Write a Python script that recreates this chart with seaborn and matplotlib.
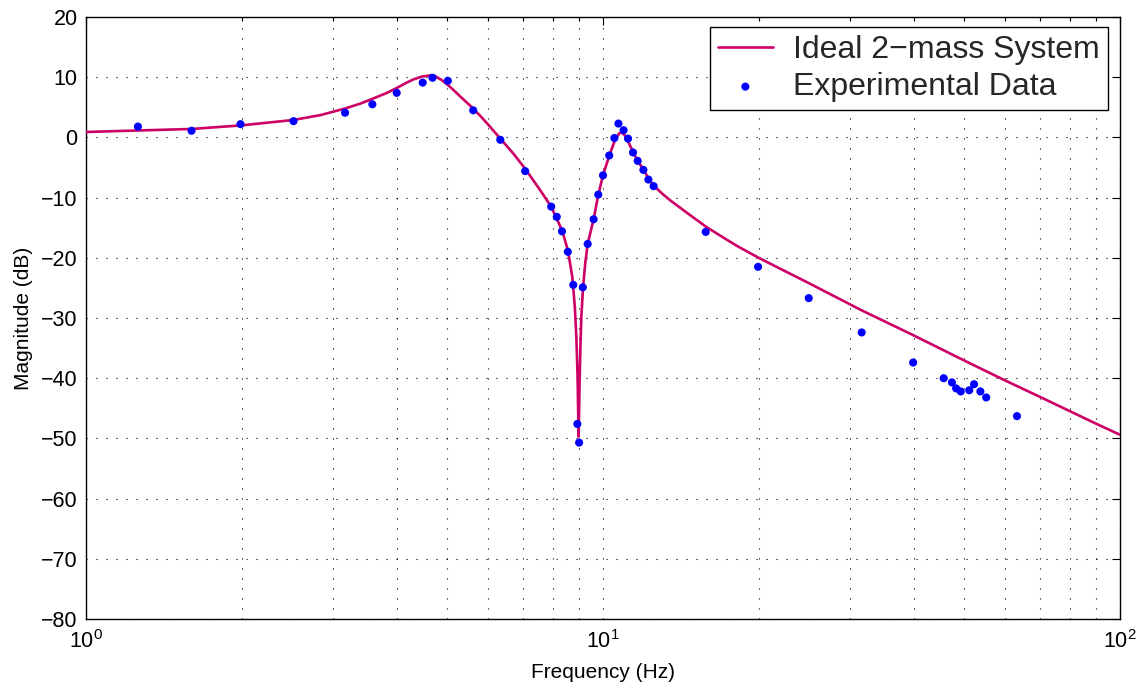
import numpy as np
import pandas as pd
import matplotlib
matplotlib.use("Agg")
import matplotlib.pyplot as plt
import seaborn as sns
from matplotlib.ticker import LogLocator, FixedLocator, NullFormatter

# Ideal 2-mass system curve
model_freq = [1.0, 1.26, 1.6, 2.0, 2.52, 2.84, 3.17, 3.39, 3.58, 3.82, 3.99, 4.15,
              4.29, 4.46, 4.63, 4.73, 4.88, 5.06, 5.28, 5.53, 5.80, 6.0, 6.33, 6.71,
              7.07, 7.55, 7.94, 8.33, 8.55, 8.72, 8.82, 8.88, 8.93, 8.97, 9.01, 9.04,
              9.08, 9.15, 9.24, 9.34, 9.59, 9.79, 10.0, 10.28, 10.52, 10.75, 10.86,
              11.01, 11.2, 11.43, 11.67, 11.97, 12.24, 12.53, 13.0, 13.51, 14.52, 15.8,
              16.84, 18.14, 19.9, 22.0, 25.0, 31.6, 39.7, 49.8, 59.7, 70.0, 89.6, 100.0]
model_db = [0.9, 1.15, 1.4, 2.0, 2.9, 3.7, 4.8, 5.6, 6.4, 7.4, 8.2, 9.0,
            9.6, 10.1, 10.3, 10.2, 9.5, 8.4, 6.9, 5.3, 3.5, 2.1, -0.2, -2.7,
            -5.2, -8.7, -11.5, -15.4, -18.7, -23.1, -28.1, -33.1, -39.7, -49.7, -40.9, -35.3,
            -29.8, -24.9, -20.9, -17.7, -13.6, -9.6, -6.25, -3.1, -0.7, 0.7, 0.8,
            0.4, -0.8, -2.4, -3.9, -5.3, -6.8, -8.0, -9.3, -10.5, -12.5, -14.8,
            -16.3, -18.0, -19.9, -21.8, -24.2, -28.7, -32.8, -37.0, -40.3, -43.1, -47.5, -49.4]

exp_freq = [1.26, 1.60, 1.99, 2.52, 3.17, 3.58, 3.99, 4.48, 4.68, 5.01, 5.61,
            6.33, 7.07, 7.94, 8.14, 8.33, 8.55, 8.76, 8.92, 8.99, 9.14, 9.34,
            9.59, 9.79, 10.0, 10.28, 10.52, 10.71, 10.96, 11.18, 11.43, 11.67,
            11.97, 12.24, 12.53, 15.8, 19.95, 25.0, 31.65, 39.8, 45.6, 47.3,
            48.2, 49.2, 51.1, 52.2, 53.7, 55.1, 63.2]
exp_db = [1.8, 1.1, 2.2, 2.7, 4.1, 5.5, 7.4, 9.1, 9.9, 9.4, 4.5,
          -0.4, -5.6, -11.5, -13.2, -15.6, -19.0, -24.5, -47.6, -50.7, -24.9, -17.7,
          -13.6, -9.5, -6.3, -3.0, -0.1, 2.3, 1.2, -0.2, -2.5, -3.9,
          -5.4, -7.0, -8.1, -15.7, -21.5, -26.7, -32.4, -37.4, -40.0, -40.7,
          -41.7, -42.2, -42.0, -41.0, -42.2, -43.2, -46.3]

y_ticks = list(range(-80, 21, 10))

sns.set_theme(style="white")
plt.rcParams['font.family'] = ['Liberation Sans', 'DejaVu Sans']
plt.rcParams['mathtext.fontset'] = 'custom'
plt.rcParams['mathtext.rm'] = 'Liberation Sans'
plt.rcParams['mathtext.it'] = 'Liberation Sans'

fig = plt.figure(figsize=(11.45, 6.94), dpi=100)
ax = fig.add_axes([86/1145, 1 - 619/694, (1120-86)/1145, (619-17)/694])

model = pd.DataFrame({"f": model_freq, "db": model_db})
exp = pd.DataFrame({"f": exp_freq, "db": exp_db})

sns.lineplot(data=model, x="f", y="db", ax=ax, color="#CC0066", linewidth=1.9,
             label="Ideal 2\u2212mass System", sort=False, zorder=3)
sns.scatterplot(data=exp, x="f", y="db", ax=ax, color="#0000FF", s=34,
                edgecolor="none", label="Experimental Data", zorder=4)

ax.set_xscale("log")
ax.set_xlim(1, 100)
ax.set_ylim(-80, 20)
ax.yaxis.set_major_locator(FixedLocator(y_ticks))
ax.xaxis.set_major_locator(LogLocator(base=10, numticks=10))
ax.xaxis.set_minor_locator(LogLocator(base=10, subs=np.arange(2, 10), numticks=20))
ax.xaxis.set_minor_formatter(NullFormatter())

ax.grid(True, which="major", axis="both", color="black", linestyle=(0, (1, 8)), linewidth=0.8)
ax.grid(True, which="minor", axis="x", color="black", linestyle=(0, (1, 8)), linewidth=0.8)

for s in ax.spines.values():
    s.set_color("black")
    s.set_linewidth(1.0)

ax.tick_params(axis="both", which="both", direction="in", top=True, right=True,
               colors="black", labelsize=15.5)
ax.tick_params(axis="both", which="major", length=6, width=0.8)
ax.tick_params(axis="y", which="major", pad=6)
ax.tick_params(axis="x", which="major", pad=8)
ax.tick_params(axis="x", which="minor", length=3, width=0.8)

ax.set_xlabel("Frequency (Hz)", fontsize=15, color="black", labelpad=7)
ax.set_ylabel("Magnitude (dB)", fontsize=15, color="black", labelpad=6)

leg = ax.legend(loc="upper right", bbox_to_anchor=(1108/1145, 1 - 27/694),
                bbox_transform=fig.transFigure, borderaxespad=0,
                fontsize=23, frameon=True, fancybox=False,
                edgecolor="black", framealpha=1,
                handlelength=1.7, markerscale=1.0, borderpad=0.25, labelspacing=0.22,
                handletextpad=0.65)
leg.get_frame().set_linewidth(1.0)

fig.savefig("out.png", dpi=100)
